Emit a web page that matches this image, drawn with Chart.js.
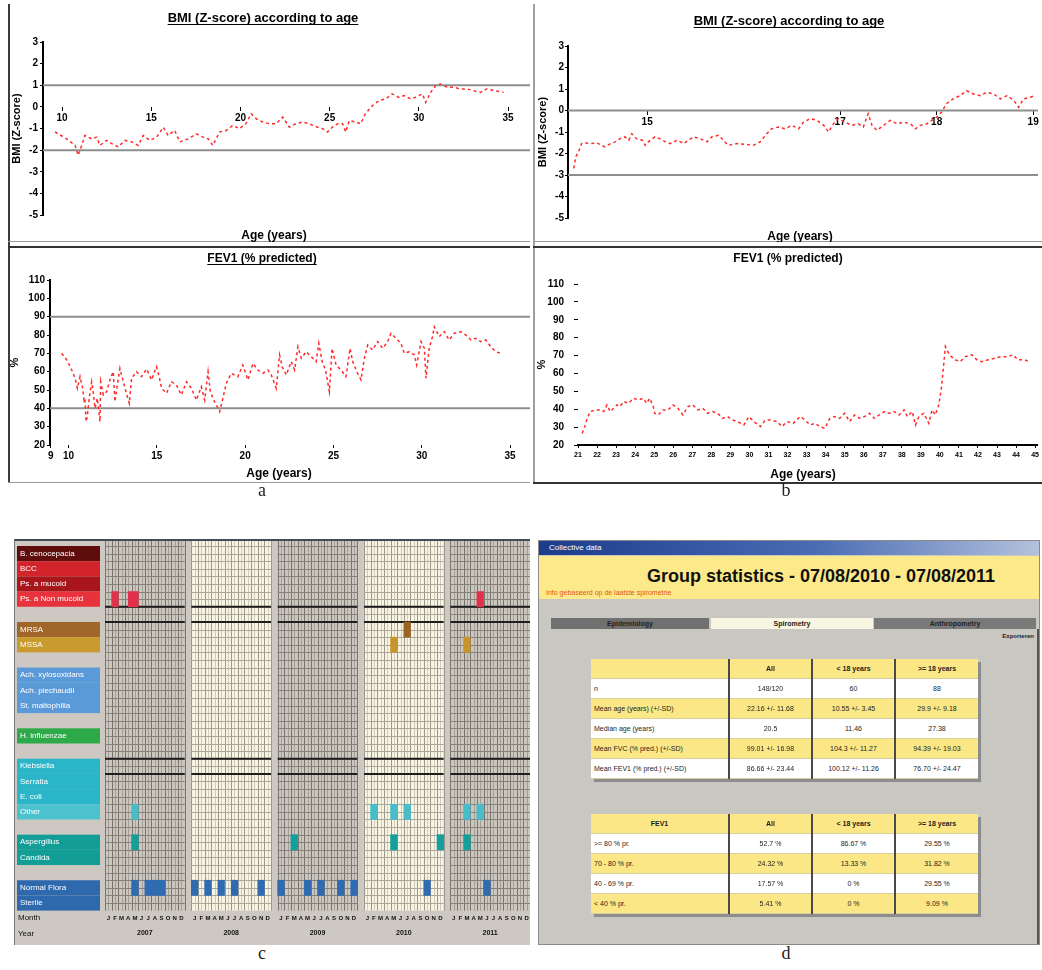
<!DOCTYPE html>
<html>
<head>
<meta charset="utf-8">
<script src="https://cdn.jsdelivr.net/npm/chart.js@4.4.1/dist/chart.umd.min.js"></script>
<style>
  body { margin: 0; background: #fff; font-family: "Liberation Sans", Arial, sans-serif; }
  #page { position: relative; width: 1042px; height: 970px; overflow: hidden; background: #fff; }
  canvas, .abs { position: absolute; }
  .letter { position: absolute; width: 30px; text-align: center; font: 18px "Liberation Serif", serif; color: #222; }
  .tab { position: absolute; top: 77px; height: 11px; font-size: 7px; font-weight: bold; line-height: 11px; text-align: center; color: #222; }
  .gt { position: absolute; border-collapse: collapse; table-layout: fixed; width: 387px; font-size: 7px; color: #1e1e1e; box-shadow: 3px 3px 0 #8c8c8c; }
  .gt td { height: 19px; padding: 0 3px; border-right: 2px solid #4a4a4a; border-bottom: 1px solid #d9cf9c; text-align: center; white-space: nowrap; overflow: hidden; }
  .gt td:last-child { border-right: none; }
  .gt td.first { text-align: left; }
  .gt tr.y td { background: #fbe785; }
  .gt tr.w td { background: #fff; }
  .gt tr.h td { font-weight: bold; }
</style>
</head>
<body>
<div id="page">
  <!-- frames of panels a and b -->
  <div class="abs" style="left:8px;top:4px;width:2px;height:478px;background:#3c3c3c"></div>
  <div class="abs" style="left:8px;top:241px;width:522px;height:1px;background:#9a9a9a"></div>
  <div class="abs" style="left:8px;top:246px;width:522px;height:2px;background:#333"></div>
  <div class="abs" style="left:8px;top:482px;width:522px;height:1px;background:#9a9a9a"></div>
  <div class="abs" style="left:533px;top:4px;width:2px;height:479px;background:#a0a0a0"></div>
  <div class="abs" style="left:533px;top:241px;width:509px;height:1px;background:#9a9a9a"></div>
  <div class="abs" style="left:533px;top:246px;width:509px;height:2px;background:#333"></div>
  <div class="abs" style="left:533px;top:482px;width:509px;height:2px;background:#333"></div>

  <canvas id="bmiA" width="520" height="240" style="left:10px;top:2px"></canvas>
  <canvas id="fevA" width="520" height="234" style="left:10px;top:248px"></canvas>
  <canvas id="bmiB" width="507" height="240" style="left:535px;top:2px"></canvas>
  <canvas id="fevB" width="507" height="234" style="left:535px;top:248px"></canvas>

  <div class="letter" style="left:247px;top:480px">a</div>
  <div class="letter" style="left:771px;top:480px">b</div>
  <div class="letter" style="left:247px;top:943px">c</div>
  <div class="letter" style="left:771px;top:943px">d</div>

  <!-- panel c -->
  <div class="abs" style="left:14px;top:539px;width:516px;height:406px;border-top:2px solid #434b58;border-left:1px solid #777;border-bottom:1px solid #777;box-sizing:border-box"></div>
  <canvas id="micro" width="515" height="404" style="left:15px;top:541px;background:#cdc8c1"></canvas>

  <!-- panel d -->
  <div id="pd" class="abs" style="left:538px;top:540px;width:502px;height:405px;background:#c9c7c2;border:1px solid #8a8a8a;box-sizing:border-box;overflow:hidden">
    <div class="abs" style="left:0;top:0;width:502px;height:14px;background:linear-gradient(90deg,#1c3c8c,#4a6cb4 55%,#b4c2dc);color:#fff;font-size:8px;line-height:14px;padding-left:10px;box-sizing:border-box">Collective data</div>
    <div class="abs" style="left:0;top:15px;width:502px;height:43px;background:#fce98a"></div>
    <div class="abs" style="left:0;top:25px;width:564px;text-align:center;font-weight:bold;font-size:18px;line-height:20px;color:#111">Group statistics - 07/08/2010 - 07/08/2011</div>
    <div class="abs" style="left:7px;top:48px;font-size:7px;color:#e0581a">Info gebaseerd op de laatste spirometrie</div>
    <div class="tab" style="left:12px;width:158px;background:#707070">Epidemiology</div>
    <div class="tab" style="left:172px;width:162px;background:#f8f5e3">Spirometry</div>
    <div class="tab" style="left:335px;width:162px;background:#7a7a7a">Anthropometry</div>
    <div class="abs" style="left:400px;top:92px;width:95px;text-align:right;font-size:6px;font-weight:bold;color:#222">Exporteren</div>
    <div class="abs" style="left:498px;top:88px;width:2px;height:317px;background:#555"></div>
    <table id="statTable" class="gt" style="left:52px;top:118px"></table>
    <table id="fevTable" class="gt" style="left:52px;top:273px"></table>
  </div>
</div>

<script>
// --- Data: panel a ---
const bmiA_age = [9.6, 10.26, 10.73, 10.9, 11.1, 11.28, 11.66, 11.94, 12.12, 12.5, 12.78, 13.15, 13.52, 13.9, 14.27, 14.55, 14.92, 15.3, 15.67, 15.94, 16.31, 16.6, 17.07, 17.53, 17.9, 18.2, 18.45, 18.83, 19.2, 19.57, 19.94, 20.3, 20.6, 20.88, 21.25, 21.62, 22.0, 22.37, 22.74, 23.1, 23.48, 23.85, 24.32, 24.6, 24.88, 25.16, 25.44, 25.72, 25.9, 26.1, 26.46, 26.74, 27.0, 27.4, 27.77, 28.14, 28.5, 28.88, 29.16, 29.53, 29.8, 30.2, 30.38, 30.66, 30.94, 31.2, 31.6, 31.96, 32.3, 32.7, 33.07, 33.45, 33.8, 34.2, 34.75];
const bmiA_z = [-1.16, -1.48, -1.78, -2.24, -1.78, -1.32, -1.48, -1.4, -1.78, -1.55, -1.7, -1.85, -1.55, -1.62, -1.78, -1.32, -1.55, -1.4, -0.94, -1.32, -1.09, -1.62, -1.48, -1.25, -1.4, -1.48, -1.78, -1.16, -1.09, -0.86, -1.01, -0.78, -0.32, -0.55, -0.7, -0.78, -0.78, -0.47, -0.94, -0.78, -0.7, -0.78, -0.94, -1.01, -1.16, -0.94, -0.78, -0.78, -1.16, -0.63, -0.7, -0.78, -0.32, 0.06, 0.29, 0.37, 0.6, 0.44, 0.52, 0.37, 0.44, 0.6, 0.21, 0.67, 0.98, 1.06, 0.91, 0.91, 0.83, 0.83, 0.75, 0.67, 0.83, 0.75, 0.67];
const bmiA_xTicks = [10, 15, 20, 25, 30, 35];
const bmiA_refs = [1, -2];

const fevA_age = [9.61, 9.9, 10.18, 10.37, 10.5, 10.65, 10.8, 10.88, 10.93, 10.99, 11.06, 11.17, 11.31, 11.37, 11.5, 11.63, 11.78, 11.82, 11.97, 12.16, 12.34, 12.53, 12.63, 12.76, 12.91, 13.1, 13.25, 13.44, 13.57, 13.85, 14.13, 14.42, 14.7, 14.98, 15.13, 15.27, 15.55, 15.83, 16.11, 16.39, 16.68, 16.96, 17.24, 17.52, 17.71, 17.9, 18.03, 18.27, 18.56, 18.74, 18.93, 19.21, 19.59, 19.87, 20.16, 20.44, 20.72, 21.01, 21.29, 21.48, 21.76, 21.95, 22.1, 22.33, 22.61, 22.8, 22.99, 23.18, 23.46, 23.74, 24.02, 24.17, 24.36, 24.55, 24.77, 24.92, 25.15, 25.43, 25.71, 25.94, 26.09, 26.32, 26.56, 26.75, 26.94, 27.22, 27.5, 27.79, 28.07, 28.26, 28.54, 28.82, 29.01, 29.3, 29.58, 29.71, 29.96, 30.15, 30.24, 30.42, 30.61, 30.71, 30.99, 31.27, 31.55, 31.84, 32.21, 32.5, 32.78, 33.06, 33.34, 33.63, 33.91, 34.19, 34.47];
const fevA_pct = [70, 66.4, 60.9, 56.4, 50.9, 57.3, 50.9, 44.5, 45.5, 32.7, 35.5, 45.5, 54.5, 50.9, 40, 45.5, 32.7, 54.5, 47.3, 49.1, 55.5, 60, 43.6, 52.7, 61.8, 54.5, 49.1, 42.7, 56.4, 60, 57.3, 61.4, 55.5, 62.7, 57.3, 50.9, 48.2, 54.5, 52.7, 47.3, 54.5, 50.9, 44.5, 51.8, 44.5, 60, 49.1, 43.6, 38.2, 45.5, 53.6, 59.1, 57.3, 63.6, 55.5, 64.5, 60.9, 59.1, 60.9, 58.2, 50.9, 69.1, 62.7, 58.2, 65.5, 60.9, 73.6, 67.3, 70.9, 68.2, 65.5, 75.5, 65.5, 60.9, 49.1, 72.7, 63.6, 60.9, 57.3, 72.7, 65.5, 60, 55.5, 67.3, 74.5, 71.8, 76.4, 72.7, 76.4, 80.9, 78.2, 75.5, 70, 70.9, 69.1, 63.6, 76.4, 72.7, 56.4, 72.7, 79.1, 84.5, 79.1, 81.8, 77.3, 80.9, 81.8, 80, 77.3, 78.2, 76.4, 77.3, 73.6, 70.9, 70];
const fevA_xTicks = [9, 10, 15, 20, 25, 30, 35];
const fevA_refs = [90, 40];

// --- Data: panel b ---
const bmiB_age = [14.24, 14.26, 14.29, 14.32, 14.36, 14.41, 14.48, 14.53, 14.56, 14.62, 14.67, 14.72, 14.77, 14.81, 14.84, 14.89, 14.95, 14.98, 15.03, 15.08, 15.13, 15.19, 15.24, 15.31, 15.38, 15.43, 15.48, 15.55, 15.62, 15.67, 15.74, 15.79, 15.84, 15.93, 16.02, 16.1, 16.17, 16.24, 16.29, 16.36, 16.43, 16.5, 16.57, 16.62, 16.69, 16.76, 16.83, 16.88, 16.93, 16.98, 17.05, 17.12, 17.19, 17.24, 17.29, 17.33, 17.38, 17.45, 17.52, 17.59, 17.66, 17.73, 17.78, 17.83, 17.9, 17.95, 18.0, 18.05, 18.1, 18.17, 18.24, 18.31, 18.38, 18.45, 18.52, 18.59, 18.66, 18.73, 18.8, 18.85, 18.9, 18.97, 19.02];
const bmiB_z = [-2.69, -2.15, -1.92, -1.54, -1.51, -1.54, -1.51, -1.62, -1.69, -1.54, -1.46, -1.31, -1.23, -1.38, -1.08, -1.31, -1.38, -1.62, -1.38, -1.23, -1.31, -1.46, -1.54, -1.38, -1.54, -1.38, -1.23, -1.31, -1.46, -1.23, -1.15, -1.38, -1.62, -1.54, -1.57, -1.62, -1.46, -1.08, -0.85, -0.77, -0.85, -0.69, -0.85, -0.54, -0.38, -0.46, -0.69, -1.0, -0.62, -0.38, -0.54, -0.69, -0.62, -0.77, -0.15, -0.69, -0.92, -0.69, -0.46, -0.62, -0.54, -0.62, -0.85, -0.69, -0.62, -0.46, -0.31, -0.08, 0.31, 0.54, 0.69, 0.92, 0.77, 0.69, 0.85, 0.77, 0.54, 0.69, 0.46, 0.15, 0.54, 0.62, 0.69];
const bmiB_xTicks = [15, 17, 18, 19];
const bmiB_refs = [0, -3];

const fevB_age = [21.22, 21.36, 21.48, 21.65, 21.91, 22.17, 22.35, 22.52, 22.69, 22.87, 23.04, 23.21, 23.39, 23.65, 23.91, 24.17, 24.43, 24.6, 24.77, 24.95, 25.03, 25.21, 25.47, 25.73, 25.99, 26.25, 26.51, 26.77, 27.03, 27.29, 27.55, 27.81, 28.07, 28.33, 28.59, 28.85, 29.11, 29.37, 29.71, 29.97, 30.23, 30.58, 30.84, 31.1, 31.45, 31.71, 31.97, 32.31, 32.66, 32.92, 33.18, 33.44, 33.7, 33.96, 34.22, 34.48, 34.74, 35, 35.26, 35.52, 35.78, 36.04, 36.3, 36.56, 36.82, 37.08, 37.34, 37.6, 37.86, 38.12, 38.29, 38.55, 38.72, 38.9, 39.16, 39.42, 39.59, 39.76, 39.94, 40.08, 40.2, 40.29, 40.5, 40.81, 41.07, 41.33, 41.68, 41.94, 42.19, 42.54, 42.88, 43.23, 43.58, 43.84, 44.1, 44.44, 44.7];
const fevB_pct = [26.5, 30.3, 34.9, 38.7, 39.6, 39.6, 38.7, 42.4, 38.7, 40.5, 42.4, 41.5, 44.3, 43.3, 46.1, 45.2, 46.1, 43.3, 46.1, 41.5, 37.7, 36.8, 39.6, 39.6, 42.4, 40.5, 36.8, 41.5, 42.4, 39.6, 40.5, 37.7, 38.7, 37.7, 34.9, 35.9, 34, 33.1, 31.2, 35.9, 33.1, 30.3, 34, 34, 33.1, 30.3, 33.1, 32.1, 35.9, 34, 31.2, 32.1, 30.3, 29.3, 34.9, 35.9, 34.9, 37.7, 33.1, 36.8, 34.9, 35.9, 37.7, 34.9, 36.8, 38.7, 37.7, 38.7, 36.8, 39.6, 35.9, 38.7, 31.2, 35.9, 37.7, 32.1, 39.6, 36.8, 42.4, 51.7, 64.8, 75, 70.4, 67.6, 66.6, 69.4, 70.4, 67.6, 66.6, 67.6, 68.5, 69.4, 69.4, 70.4, 67.6, 67.6, 66.6];
const fevB_xTicks = [21, 22, 23, 24, 25, 26, 27, 28, 29, 30, 31, 32, 33, 34, 35, 36, 37, 38, 39, 40, 41, 42, 43, 44, 45];
const fevB_refs = [];

const bmiYTicks = [3, 2, 1, 0, -1, -2, -3, -4, -5];
const fevYTicks = [110, 100, 90, 80, 70, 60, 50, 40, 30, 20];

// --- Data: panel c ---
const microRows = ["B. cenocepacia", "BCC", "Ps. a mucoid", "Ps. a Non mucoid", "", "MRSA", "MSSA", "", "Ach. xylosoxidans", "Ach. piechaudii", "St. maltophilia", "", "H. influenzae", "", "Klebsiella", "Serratia", "E. coli", "Other", "", "Aspergillus", "Candida", "", "Normal Flora", "Sterile", "Month", "Year"];
const years = ["2007", "2008", "2009", "2010", "2011"];
const months = ["J", "F", "M", "A", "M", "J", "J", "A", "S", "O", "N", "D"];
// each positive culture: organism, year index, start (half months), length (half months)
const cellOrg = ["Ps. a Non mucoid", "Ps. a Non mucoid", "Ps. a Non mucoid", "MRSA", "MSSA", "MSSA",
  "Other", "Other", "Other", "Other", "Other", "Other",
  "Aspergillus", "Aspergillus", "Aspergillus", "Aspergillus", "Aspergillus",
  "Normal Flora", "Normal Flora", "Normal Flora", "Normal Flora", "Normal Flora", "Normal Flora", "Normal Flora",
  "Normal Flora", "Normal Flora", "Normal Flora", "Normal Flora", "Normal Flora", "Normal Flora", "Normal Flora"];
const cellYear = [0, 0, 4, 3, 3, 4, 0, 3, 3, 3, 4, 4, 0, 2, 3, 3, 4, 0, 0, 1, 1, 1, 1, 1, 2, 2, 2, 2, 2, 3, 4];
const cellStart = [2, 7, 8, 12, 8, 4, 8, 2, 8, 12, 4, 8, 8, 4, 8, 22, 4, 8, 12, 0, 4, 8, 12, 20, 0, 8, 12, 18, 22, 18, 10];
const cellLen = [2, 3, 2, 2, 2, 2, 2, 2, 2, 2, 2, 2, 2, 2, 2, 2, 2, 2, 6, 2, 2, 2, 2, 2, 2, 2, 2, 2, 2, 2, 2];

// --- Data: panel d ---
const statHead = ["", "All", "< 18 years", ">= 18 years"];
const statRows = ["n", "Mean age (years) (+/-SD)", "Median age (years)", "Mean FVC (% pred.) (+/-SD)", "Mean FEV1 (% pred.) (+/-SD)"];
const statAll = ["148/120", "22.16 +/- 11.68", "20.5", "99.01 +/- 16.98", "86.66 +/- 23.44"];
const statYoung = ["60", "10.55 +/- 3.45", "11.46", "104.3 +/- 11.27", "100.12 +/- 11.26"];
const statAdult = ["88", "29.9 +/- 9.18", "27.38", "94.39 +/- 19.03", "76.70 +/- 24.47"];
const fevHead = ["FEV1", "All", "< 18 years", ">= 18 years"];
const fevClasses = [">= 80 % pr.", "70 - 80 % pr.", "40 - 69 % pr.", "< 40 % pr."];
const fevAll = ["52.7 %", "24.32 %", "17.57 %", "5.41 %"];
const fevYoung = ["86.67 %", "13.33 %", "0 %", "0 %"];
const fevAdult = ["29.55 %", "31.82 %", "29.55 %", "9.09 %"];

// --- Styles ---
const FONT = '"Liberation Sans", Arial, sans-serif';
const rowColors = {
  "B. cenocepacia": "#5e0c0c", "BCC": "#d2242a", "Ps. a mucoid": "#a8161c", "Ps. a Non mucoid": "#e8323c",
  "MRSA": "#a0662a", "MSSA": "#c99a2e",
  "Ach. xylosoxidans": "#5b9ad8", "Ach. piechaudii": "#5b9ad8", "St. maltophilia": "#5b9ad8",
  "H. influenzae": "#2ea94a",
  "Klebsiella": "#2ab6c8", "Serratia": "#2ab6c8", "E. coli": "#2ab6c8", "Other": "#4cc2ce",
  "Aspergillus": "#139d97", "Candida": "#139d97",
  "Normal Flora": "#2e69ad", "Sterile": "#2e69ad"
};
const cellColors = {
  "Ps. a Non mucoid": "#e0304a", "MRSA": "#9a6424", "MSSA": "#c7952c",
  "Other": "#48bcc8", "Aspergillus": "#14a09a", "Normal Flora": "#2f6bb0"
};

// --- Chart text plugin (titles, axis names) ---
const chartText = {
  id: "chartText",
  afterDraw(chart, args, o) {
    const { ctx, chartArea: ca } = chart;
    ctx.save();
    ctx.fillStyle = "#000";
    ctx.textAlign = "center";
    ctx.textBaseline = "alphabetic";
    ctx.font = "bold " + o.titleSize + "px " + FONT;
    ctx.fillText(o.title, o.tx, o.ty);
    if (o.underline) {
      const w = ctx.measureText(o.title).width;
      ctx.fillRect(o.tx - w / 2, o.ty + 2, w, 1);
    }
    ctx.font = "bold 12px " + FONT;
    ctx.fillText("Age (years)", o.xx, o.xy);
    ctx.translate(o.yx, (ca.top + ca.bottom) / 2);
    ctx.rotate(-Math.PI / 2);
    ctx.font = "bold 11px " + FONT;
    ctx.textBaseline = "middle";
    ctx.fillText(o.yTitle, 0, 0);
    ctx.restore();
  }
};

function lineChart(id, ages, vals, o) {
  const refSets = o.refs.map(r => ({
    data: [{ x: o.xMin, y: r }, { x: o.xMax, y: r }],
    borderColor: "#8e8e8e", borderWidth: 2, pointRadius: 0, order: 2
  }));
  return new Chart(document.getElementById(id), {
    type: "line",
    data: {
      datasets: [{
        data: ages.map((a, i) => ({ x: a, y: vals[i] })),
        borderColor: "#ff2a2a", borderWidth: 1.5, borderDash: [3, 3],
        pointRadius: 0, tension: 0, order: 1
      }, ...refSets]
    },
    options: {
      responsive: false, animation: false, devicePixelRatio: 1,
      layout: { padding: o.pad },
      plugins: { legend: { display: false }, tooltip: { enabled: false }, chartText: o.text },
      scales: {
        x: {
          type: "linear", min: o.xMin, max: o.xMax, position: o.xPos,
          afterBuildTicks: s => { s.ticks = o.xTicks.map(v => ({ value: v })); },
          afterFit: s => { if (o.xH) s.height = o.xH; },
          border: { display: o.xBorder, color: "#000", width: 2 },
          grid: { drawOnChartArea: false, color: "#000", tickLength: o.xTickLen },
          ticks: { color: "#000", font: { family: FONT, weight: "bold", size: o.xFont }, padding: o.xPad, maxRotation: 0, autoSkip: false }
        },
        y: {
          min: o.yMin, max: o.yMax,
          afterBuildTicks: s => { s.ticks = o.yTicks.map(v => ({ value: v })); },
          afterFit: s => { s.width = o.yW; },
          border: { display: o.yBorder, color: "#000", width: 2 },
          grid: { drawOnChartArea: false, color: "#000", tickLength: o.yTickLen },
          ticks: { color: "#000", font: { family: FONT, weight: "bold", size: 10 }, padding: o.yPad }
        }
      }
    },
    plugins: [chartText]
  });
}

// --- Panels a and b ---
lineChart("bmiA", bmiA_age, bmiA_z, {
  xMin: 8.93, xMax: 36.23, yMin: -5, yMax: 3, xTicks: bmiA_xTicks, yTicks: bmiYTicks, refs: bmiA_refs,
  pad: { top: 40, bottom: 27, left: 0, right: 0 }, yW: 33, xPos: { y: 0 }, xBorder: false, yBorder: true,
  xTickLen: 4, xPad: 1, xFont: 10, yTickLen: 3, yPad: 2,
  text: { title: "BMI (Z-score) according to age", titleSize: 13, underline: true, tx: 253, ty: 20, xx: 264, xy: 237, yx: 7, yTitle: "BMI (Z-score)" }
});
lineChart("fevA", fevA_age, fevA_pct, {
  xMin: 8.95, xMax: 36.13, yMin: 20, yMax: 110, xTicks: fevA_xTicks, yTicks: fevYTicks, refs: fevA_refs,
  pad: { top: 32, bottom: 23, left: 0, right: 0 }, yW: 40, xH: 14, xPos: "bottom", xBorder: false, yBorder: true,
  xTickLen: 3, xPad: 2, xFont: 10, yTickLen: 3, yPad: 2,
  text: { title: "FEV1 (% predicted)", titleSize: 12, underline: true, tx: 252, ty: 14, xx: 269, xy: 229, yx: 5, yTitle: "%" }
});
lineChart("bmiB", bmiB_age, bmiB_z, {
  xMin: 14.18, xMax: 19.05, yMin: -5, yMax: 3, xTicks: bmiB_xTicks, yTicks: bmiYTicks, refs: bmiB_refs,
  pad: { top: 44, bottom: 24, left: 0, right: 4 }, yW: 33, xPos: { y: 0 }, xBorder: false, yBorder: true,
  xTickLen: 4, xPad: 2, xFont: 10, yTickLen: 3, yPad: 1,
  text: { title: "BMI (Z-score) according to age", titleSize: 13, underline: true, tx: 254, ty: 23, xx: 265, xy: 238, yx: 8, yTitle: "BMI (Z-score)" }
});
lineChart("fevB", fevB_age, fevB_pct, {
  xMin: 21, xMax: 45.15, yMin: 20, yMax: 110, xTicks: fevB_xTicks, yTicks: fevYTicks, refs: fevB_refs,
  pad: { top: 36, bottom: 23, left: 0, right: 2 }, yW: 43, xH: 14, xPos: "bottom", xBorder: true, yBorder: false,
  xTickLen: 3, xPad: 3, xFont: 7, yTickLen: 4, yPad: 10,
  text: { title: "FEV1 (% predicted)", titleSize: 12, underline: false, tx: 253, ty: 14, xx: 268, xy: 230, yx: 7, yTitle: "%" }
});

// --- Panel c: microbiology grid ---
const microGrid = {
  id: "microGrid",
  beforeDatasetsDraw(chart) {
    const { ctx, scales: { x, y } } = chart;
    const rh = y.getPixelForValue(1) - y.getPixelForValue(0);
    const top = 0, bottom = y.getPixelForValue(24) - rh / 2;
    ctx.save();
    years.forEach((yr, b) => {
      const x0 = x.getPixelForValue(b * 26);
      const x1 = Math.min(x.getPixelForValue(b * 26 + 24), chart.width);
      const cream = b % 2 === 1;
      ctx.fillStyle = cream ? "#f8f4e2" : "#cbc6be";
      ctx.fillRect(x0, top, x1 - x0, bottom - top);
      // half-month lines (light), month lines (darker)
      for (let c = 0; c <= 24; c++) {
        const px = Math.round(x.getPixelForValue(b * 26 + c)) + 0.5;
        if (px > chart.width) break;
        ctx.strokeStyle = c % 2 === 0 ? (cream ? "#9c988e" : "#77736d") : (cream ? "#cfcbbf" : "#a39f98");
        ctx.lineWidth = 1;
        ctx.beginPath();
        ctx.moveTo(px, top); ctx.lineTo(px, bottom);
        ctx.stroke();
      }
      ctx.strokeStyle = cream ? "#aaa69b" : "#85817a";
      ctx.beginPath();
      for (let r = -1; r <= 48; r++) {
        const py = Math.round(y.getPixelForValue(0) - rh / 2 + r * rh / 2) + 0.5;
        if (py < top || py > bottom) continue;
        ctx.moveTo(x0, py); ctx.lineTo(x1, py);
      }
      ctx.stroke();
      ctx.strokeStyle = "#1e1e1e";
      ctx.lineWidth = 2;
      ctx.beginPath();
      [4, 5, 14, 15].forEach(r => {
        const py = y.getPixelForValue(r) - rh / 2;
        ctx.moveTo(x0, py); ctx.lineTo(x1, py);
      });
      ctx.stroke();
    });
    ctx.restore();
  },
  afterDraw(chart) {
    const { ctx, scales: { x, y } } = chart;
    const rh = y.getPixelForValue(1) - y.getPixelForValue(0);
    ctx.save();
    ctx.textBaseline = "middle";
    microRows.forEach((name, i) => {
      const yc = y.getPixelForValue(i);
      ctx.textAlign = "left";
      if (i >= 24) {
        ctx.fillStyle = "#111";
        ctx.font = "8px " + FONT;
        ctx.fillText(name, 3, yc);
        return;
      }
      if (!name) return;
      ctx.fillStyle = rowColors[name];
      ctx.fillRect(2, yc - rh / 2, 83, rh);
      ctx.fillStyle = "#fff";
      ctx.font = "8px " + FONT;
      ctx.fillText(name, 5, yc);
    });
    ctx.fillStyle = "#111";
    ctx.textAlign = "center";
    years.forEach((yr, b) => {
      ctx.font = "bold 6px " + FONT;
      months.forEach((m, k) => {
        const px = x.getPixelForValue(b * 26 + 2 * k + 1);
        if (px < chart.width - 2) ctx.fillText(m, px, y.getPixelForValue(24));
      });
      ctx.font = "bold 7px " + FONT;
      ctx.fillText(yr, x.getPixelForValue(b * 26 + 12), y.getPixelForValue(25));
    });
    ctx.restore();
  }
};

const cellSets = cellOrg.map((org, i) => {
  const c0 = cellYear[i] * 26 + cellStart[i];
  const row = microRows.indexOf(org);
  return {
    data: microRows.map((_, r) => (r === row ? [c0, c0 + cellLen[i]] : null)),
    backgroundColor: cellColors[org], borderWidth: 0,
    grouped: false, barPercentage: 1, categoryPercentage: 1
  };
});

new Chart(document.getElementById("micro"), {
  type: "bar",
  data: { labels: microRows, datasets: cellSets },
  options: {
    indexAxis: "y", responsive: false, animation: false, devicePixelRatio: 1,
    layout: { padding: { left: 90, right: 0, top: 5, bottom: 4 } },
    plugins: { legend: { display: false }, tooltip: { enabled: false } },
    scales: {
      x: { type: "linear", min: 0, max: 128, display: false },
      y: { display: false }
    }
  },
  plugins: [microGrid]
});

// --- Panel d: tables ---
function fillTable(id, head, names, cols) {
  const table = document.getElementById(id);
  table.innerHTML = "<colgroup><col style='width:138px'><col style='width:83px'><col style='width:83px'><col style='width:83px'></colgroup>";
  const rows = [head].concat(names.map((n, i) => [n].concat(cols.map(c => c[i]))));
  rows.forEach((cells, r) => {
    const tr = document.createElement("tr");
    tr.className = (r % 2 === 0 ? "y" : "w") + (r === 0 ? " h" : "");
    cells.forEach((txt, c) => {
      const td = document.createElement("td");
      td.textContent = txt;
      if (c === 0 && r > 0) td.className = "first";
      tr.appendChild(td);
    });
    table.appendChild(tr);
  });
}
fillTable("statTable", statHead, statRows, [statAll, statYoung, statAdult]);
fillTable("fevTable", fevHead, fevClasses, [fevAll, fevYoung, fevAdult]);
</script>
</body>
</html>
